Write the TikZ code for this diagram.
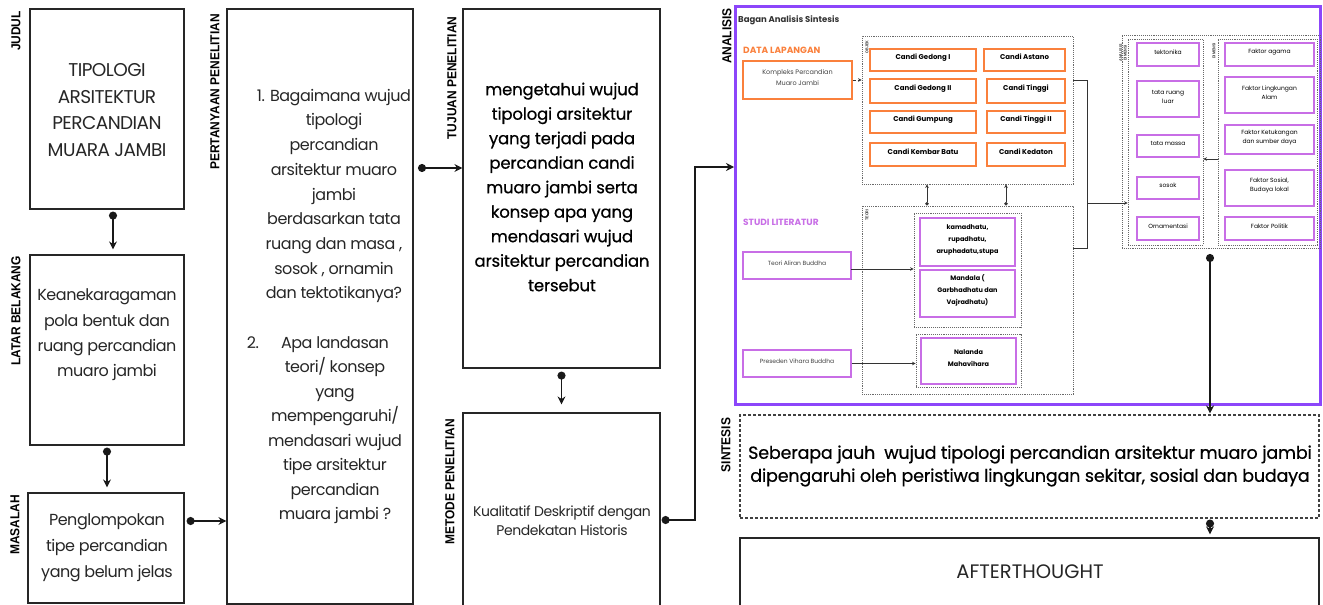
\documentclass[tikz,border=0pt]{standalone}
\usepackage{fontspec}
\setmainfont{Poppins}
\newfontfamily\labfont[FakeStretch=0.92]{Liberation Sans}
\newfontfamily\cg[LetterSpace=-3]{Poppins}
\newfontfamily\cgw[LetterSpace=-1,FakeBold=0.6]{Poppins}
\usetikzlibrary{arrows.meta,fit,calc}
\definecolor{orng}{RGB}{250,128,60}
\definecolor{pnk}{RGB}{200,110,230}
\definecolor{purp}{RGB}{140,70,250}
\definecolor{dgray}{RGB}{105,105,105}
\begin{document}
\begin{tikzpicture}[x=1pt,y=-1pt,
  box/.style={draw=black!85,line width=1.2pt,inner sep=0pt},
  dbox/.style={draw=dgray,densely dotted,line width=0.9pt,inner sep=0pt},
  obox/.style={draw=orng,line width=1.3pt,inner sep=0pt,align=center,font=\bfseries\fontsize{7}{9}\selectfont},
  pbox/.style={draw=pnk,line width=1.3pt,inner sep=0pt,align=center,font=\fontsize{6}{9}\selectfont},
  pbbox/.style={pbox,font=\bfseries\fontsize{6.5}{12}\selectfont},
  txt/.style={inner sep=0pt,align=center,text=black!85},
  lab/.style={inner sep=0pt,rotate=90,font=\labfont\bfseries\fontsize{13}{13}\selectfont},
  tlab/.style={inner sep=0pt,rotate=90,align=center,font=\labfont\bfseries\fontsize{4}{4.5}\selectfont,text=black!80},
  conn/.style={line width=1.8pt,black!90,{Circle[length=8pt]}-{Stealth[length=8pt,width=8pt]}},
  sconn/.style={line width=0.7pt,black!80,-{Stealth[length=3.5pt,width=3.5pt]}},
  sdconn/.style={line width=0.7pt,black!80,{Circle[length=3.5pt]}-{Stealth[length=3.5pt,width=3.5pt]}}
]
\useasboundingbox (0,0) rectangle (1323,605);

% ---------- left column ----------
\node[box,fit={(30,9)(184,209)}] (jud) {};
\node[box,fit={(30,255)(184,445)}] (lat) {};
\node[box,fit={(28,493)(184,603)}] (mas) {};
\node[txt,font=\cg\fontsize{18.5}{26.5}\selectfont] (tjud) at (107,110) {TIPOLOGI\\ARSITEKTUR\\PERCANDIAN\\MUARA JAMBI};
\node[txt,font=\cg\fontsize{16}{25.3}\selectfont] (tlat) at (107,335) {Keanekaragaman\\pola bentuk dan\\ruang percandian\\muaro jambi};
\node[txt,font=\cg\fontsize{16}{26}\selectfont] (tmas) at (107,548) {Penglompokan\\tipe percandian\\yang belum jelas};
\node[lab] (ljud) at (16,31) {JUDUL};
\node[lab] (llat) at (16,311) {LATAR BELAKANG};
\node[lab] (lmas) at (15,525) {MASALAH};

% ---------- pertanyaan ----------
\node[box,fit={(227,9)(413,604)}] (pq) {};
\node[lab] (lpq) at (215,92) {PERTANYAAN PENELITIAN};
\node[txt,font=\cg\fontsize{16}{24.7}\selectfont] (tq1) at (334,196) {1. Bagaimana wujud\\tipologi\\percandian\\arsitektur muaro\\jambi\\berdasarkan tata\\ruang dan masa ,\\sosok , ornamin\\dan tektotikanya?};
\node[txt,font=\cg\fontsize{16}{24.5}\selectfont] (tq2) at (335,430) {\makebox[0pt][r]{2.\hspace{22pt}}Apa landasan\\teori/ konsep\\yang\\mempengaruhi/\\mendasari wujud\\tipe arsitektur\\percandian\\muara jambi ?};

% ---------- tujuan / metode ----------
\node[box,fit={(463,9)(660,368)}] (tuj) {};
\node[lab] (ltuj) at (452,78) {TUJUAN PENELITIAN};
\node[txt,text=black,font=\cgw\fontsize{16.5}{24.5}\selectfont] (ttuj) at (562,187) {mengetahui wujud\\tipologi arsitektur\\yang terjadi pada\\percandian candi\\muaro jambi serta\\konsep apa yang\\mendasari wujud\\arsitektur percandian\\tersebut};
\node[box,fit={(463,413)(660,627)}] (met) {};
\node[lab] (lmet) at (450,482) {METODE PENELITIAN};
\node[txt,font=\cg\fontsize{14}{19}\selectfont] (tmet) at (562,521) {Kualitatif Deskriptif dengan\\Pendekatan Historis};

% ---------- left connectors ----------
\draw[conn,shorten <=2pt,shorten >=5pt] ([xshift=6pt]jud.south) -- ([xshift=6pt]jud.south |- lat.north);
\draw[conn,shorten <=2pt,shorten >=5pt] (lat.south) -- (lat.south |- mas.north);
\coordinate (c1) at ([yshift=27pt]mas.east);
\draw[conn,shorten <=2pt] (c1) -- (c1 -| pq.west);
\coordinate (c2) at (413,168);
\draw[conn,shorten <=5pt] (c2) -- (c2 -| tuj.west);
\draw[conn,shorten <=3pt,shorten >=8pt] (tuj.south) -- (met.north);

% ---------- analisis ----------
\node[draw=purp,line width=3pt,inner sep=0pt,fit={(735,6)(1320,404)}] (ana) {};
\node[lab] (lana) at (727,36) {ANALISIS};
\coordinate (a1) at (735,167);
\draw[conn,shorten <=1pt,shorten >=1pt] (met.east) -| ($(a1)+(-40,0)$) -- (a1);

\node[anchor=west,inner sep=0pt,text=black!80,font=\bfseries\fontsize{8.5}{9}\selectfont] (bag) at (738,20) {Bagan Analisis Sintesis};
\node[anchor=west,inner sep=0pt,text=orng,font=\bfseries\fontsize{9}{10}\selectfont] (dl) at (743,50) {DATA LAPANGAN};
\node[anchor=west,inner sep=0pt,text=pnk,font=\bfseries\fontsize{9}{10}\selectfont] (sl) at (743,222) {STUDI LITERATUR};

\node[obox,font=\fontsize{6.5}{11}\selectfont,text=black!75,fit={(743,61)(852,99)}] (komp) {Kompleks Percandian\\Muaro Jambi};

% objek
\node[dbox,fit={(862,36)(1073,184)}] (obj) {};
\node[tlab] (lobj) at (867,47) {OBJEK};
\node[obox,fit={(870,49)(976,71)}] (g1) {Candi Gedong I};
\node[obox,fit={(870,79)(976,103)}] (g2) {Candi Gedong II};
\node[obox,fit={(870,111)(976,133)}] (gp) {Candi Gumpung};
\node[obox,fit={(870,143)(976,166)}] (kb) {Candi Kembar Batu};
\node[obox,fit={(984,49)(1065,71)}] (as) {Candi Astano};
\node[obox,fit={(987,79)(1065,103)}] (ti) {Candi Tinggi};
\node[obox,fit={(987,111)(1065,133)}] (t2) {Candi Tinggi II};
\node[obox,fit={(987,143)(1065,166)}] (kd) {Candi Kedaton};
\draw[sconn,densely dashed] (komp.east) -- (komp.east -| obj.west);

% teori
\node[dbox,fit={(862,206)(1073,394)}] (teo) {};
\node[tlab] (lteo) at (867,215) {TEORI};
\node[dbox,fit={(914,213)(1021,327)}] (in1) {};
\node[dbox,fit={(916,334)(1021,387)}] (in2) {};
\node[pbbox,fit={(920,218)(1015,266)}] (kama) {kamadhatu,\\rupadhatu,\\aruphadatu,stupa};
\node[pbbox,fit={(920,270)(1015,317)}] (mand) {Mandala (\\Garbhadhatu dan\\Vajradhatu)};
\node[pbbox,fit={(921,338)(1016,384)}] (nal) {Nalanda\\Mahavihara};
\node[pbox,text=black!75,fit={(743,252)(851,279)}] (tab) {Teori Aliran Buddha};
\node[pbox,text=black!75,fit={(743,350)(851,377)}] (pvb) {Preseden Vihara Buddha};
\coordinate (r1) at (851,269);
\draw[sconn] (r1) -- (r1 -| in1.west);
\draw[sconn] (pvb.east) -- (pvb.east -| in2.west);

\coordinate (v1) at (927,0);
\coordinate (v2) at (1006,0);
\draw[sdconn] (teo.north -| v1) -- (obj.south -| v1);
\draw[sdconn] (teo.north -| v2) -- (obj.south -| v2);

% dimensi
\node[dbox,fit={(1122,35)(1320,248)}] (dimo) {};
\node[dbox,fit={(1128,39)(1203,245)}] (dim1) {};
\node[dbox,fit={(1218,39)(1317,245)}] (dim2) {};
\node[tlab] (ldim) at (1123,53) {ANALISIS\\DIMENSI};
\node[tlab] (ldim2) at (1214,51) {DIMENSI};
\node[pbox,fit={(1137,43)(1199,66)}] (d1) {tektonika};
\node[pbox,fit={(1137,81)(1199,117)}] (d2) {tata ruang\\luar};
\node[pbox,fit={(1137,135)(1199,157)}] (d3) {tata massa};
\node[pbox,fit={(1137,177)(1199,199)}] (d4) {sosok};
\node[pbox,fit={(1137,217)(1199,240)}] (d5) {Ornamentasi};
\node[pbox,fit={(1225,43)(1314,66)}] (f1) {Faktor agama};
\node[pbox,fit={(1225,77)(1314,113)}] (f2) {Faktor Lingkungan\\Alam};
\node[pbox,fit={(1225,125)(1314,154)}] (f3) {Faktor Ketukangan\\dan sumber daya};
\node[pbox,fit={(1225,170)(1314,206)}] (f4) {Faktor Sosial,\\Budaya lokal};
\node[pbox,fit={(1225,217)(1314,240)}] (f5) {Faktor Politik};
\coordinate (h1) at (1218,159);
\draw[sconn] (h1) -- (h1 -| dim1.east);

\coordinate (j1) at (1087,80);
\coordinate (j2) at (1087,248);
\coordinate (j3) at (1087,203);
\draw[line width=0.7pt,black!80] (obj.east |- j1) -- (j1) -- (j2) -- (teo.east |- j2);
\draw[sconn] (j3) -- (j3 -| dim1.west);

% ---------- sintesis ----------
\node[draw=black!75,dash pattern=on 3pt off 2pt,line width=1.1pt,inner sep=0pt,fit={(740,415)(1319,518)}] (sin) {};
\node[lab] (lsin) at (726,445) {SINTESIS};
\node[txt,text=black,font=\cgw\fontsize{17.5}{23}\selectfont] (tsin) at (1030,466) {Seberapa jauh\ \ wujud tipologi percandian arsitektur muaro jambi\\dipengaruhi oleh peristiwa lingkungan sekitar, sosial dan budaya};
\coordinate (s1) at (1210,248);
\draw[conn,shorten <=6pt,shorten >=1pt] (s1) -- (s1 |- sin.north);

\node[box,fit={(740,538)(1319,627)}] (aft) {};
\node[txt,font=\fontsize{19.5}{22}\selectfont] (taft) at (1030,572) {AFTERTHOUGHT};
\draw[conn,shorten <=1pt,shorten >=3pt] (s1 |- sin.south) -- (s1 |- aft.north);
\end{tikzpicture}
\end{document}
